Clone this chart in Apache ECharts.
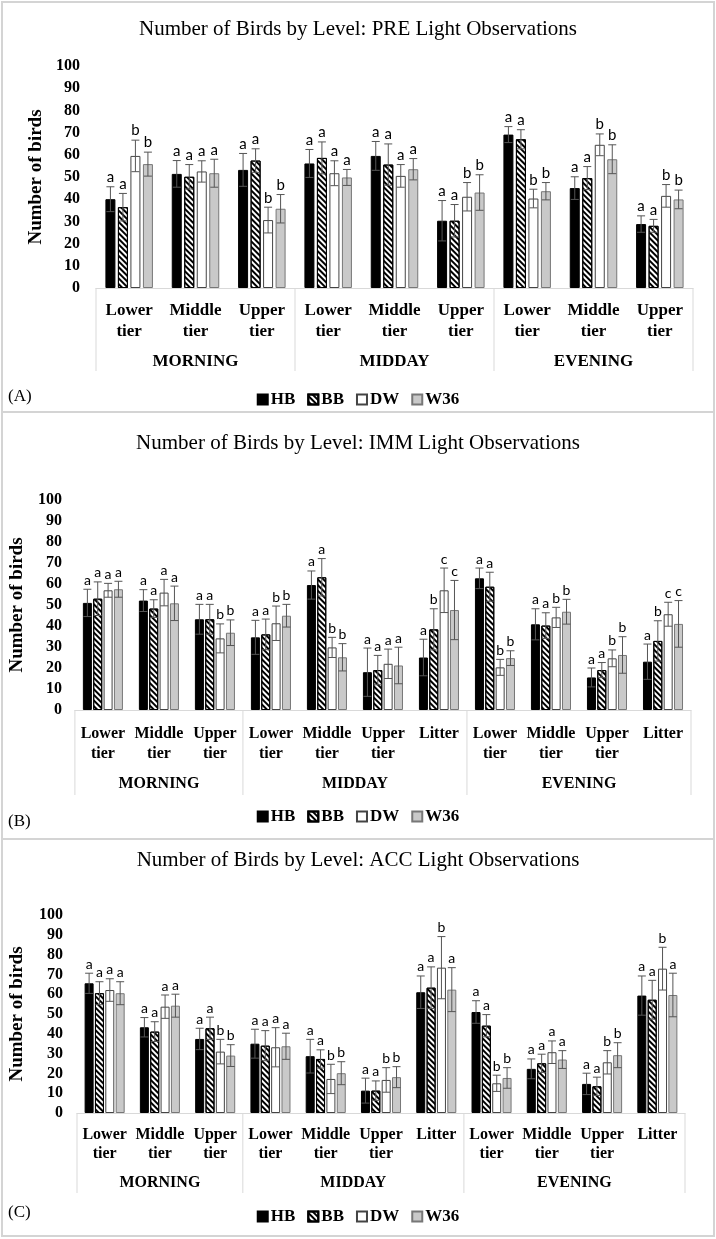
<!DOCTYPE html>
<html><head><meta charset="utf-8">
<script src="https://cdn.jsdelivr.net/npm/echarts@6/dist/echarts.min.js"></script>
<style>html,body{margin:0;padding:0;background:#fff}#c{width:716px;height:1239px}</style>
</head><body><div id="c"></div>
<script>
// ---------- DATA ----------
const seriesNames = ['HB', 'BB', 'DW', 'W36'];
const yTicks = [0, 100, 10]; // min, max, interval

// Panel A: PRE
const titleA = 'Number of Birds by Level: PRE Light Observations';
const tiersA = ['Lower\ntier','Middle\ntier','Upper\ntier','Lower\ntier','Middle\ntier','Upper\ntier','Lower\ntier','Middle\ntier','Upper\ntier'];
const groupsA = ['MORNING', 'MIDDAY', 'EVENING'];
const groupSizesA = [3, 3, 3];
const hbA  = [40.0, 51.4, 53.2, 56.1, 59.5, 30.3, 69.1, 45.0, 28.8];
const bbA  = [36.4, 50.1, 57.4, 58.6, 55.6, 30.3, 67.0, 49.5, 28.0];
const dwA  = [59.5, 52.5, 30.6, 51.7, 50.5, 41.1, 40.3, 64.5, 41.5];
const w36A = [55.8, 51.7, 35.7, 49.8, 53.5, 43.0, 43.6, 58.0, 39.9];
const hbErrA  = [5.6, 6.0, 7.4, 6.3, 6.5, 9.1, 3.6, 5.1, 3.7];
const bbErrA  = [6.2, 5.5, 5.3, 7.2, 9.3, 7.3, 4.3, 5.2, 2.9];
const dwErrA  = [7.1, 4.8, 5.8, 5.6, 5.1, 6.4, 4.2, 4.9, 5.1];
const w36ErrA = [5.4, 6.3, 6.4, 3.6, 4.8, 8.0, 3.9, 6.5, 4.2];
const hbLetA  = ['a','a','a','a','a','a','a','a','a'];
const bbLetA  = ['a','a','a','a','a','a','a','a','a'];
const dwLetA  = ['b','a','b','a','a','b','b','b','b'];
const w36LetA = ['b','a','b','a','a','b','b','b','b'];

// Panel B: IMM
const titleB = 'Number of Birds by Level: IMM Light Observations';
const tiersB = ['Lower\ntier','Middle\ntier','Upper\ntier','Lower\ntier','Middle\ntier','Upper\ntier','Litter','Lower\ntier','Middle\ntier','Upper\ntier','Litter'];
const groupsB = ['MORNING', 'MIDDAY', 'EVENING'];
const groupSizesB = [3, 4, 4];
const hbB  = [51.0, 52.1, 43.2, 34.6, 59.5, 18.0, 25.0, 62.7, 40.8, 15.5, 23.0];
const bbB  = [53.0, 48.3, 43.2, 36.0, 63.2, 19.0, 38.4, 58.7, 40.2, 19.0, 32.9];
const dwB  = [57.0, 55.9, 34.1, 41.3, 29.8, 22.0, 57.0, 20.3, 44.1, 24.6, 45.6];
const w36B = [57.5, 50.8, 36.8, 44.9, 25.1, 21.2, 47.6, 24.7, 46.8, 26.2, 41.0];
const hbErrB  = [6.5, 5.2, 7.1, 8.1, 6.7, 11.5, 8.7, 4.9, 7.4, 4.5, 8.4];
const bbErrB  = [8.0, 4.2, 7.1, 7.3, 8.9, 7.0, 9.8, 6.9, 6.1, 3.6, 9.6];
const dwErrB  = [3.3, 6.3, 6.9, 8.2, 4.8, 7.0, 10.6, 3.8, 4.8, 4.0, 5.7];
const w36ErrB = [3.8, 8.2, 6.1, 5.4, 6.5, 8.7, 14.1, 3.5, 5.9, 8.7, 11.1];
const hbLetB  = ['a','a','a','a','a','a','a','a','a','a','a'];
const bbLetB  = ['a','a','a','a','a','a','b','a','a','a','b'];
const dwLetB  = ['a','a','b','b','b','a','c','b','b','b','c'];
const w36LetB = ['a','a','b','b','b','a','c','b','b','b','c'];

// Panel C: ACC
const titleC = 'Number of Birds by Level: ACC Light Observations';
const tiersC = ['Lower\ntier','Middle\ntier','Upper\ntier','Lower\ntier','Middle\ntier','Upper\ntier','Litter','Lower\ntier','Middle\ntier','Upper\ntier','Litter'];
const groupsC = ['MORNING', 'MIDDAY', 'EVENING'];
const groupSizesC = [3, 4, 4];
const hbC  = [65.5, 43.3, 37.4, 35.0, 28.7, 11.3, 61.0, 51.0, 22.3, 14.7, 59.3];
const bbC  = [60.5, 41.1, 42.8, 34.0, 27.3, 11.3, 63.3, 44.1, 25.1, 13.5, 57.2];
const dwC  = [62.1, 53.7, 31.0, 33.2, 17.2, 16.7, 73.4, 15.0, 30.7, 25.6, 72.9];
const w36C = [60.5, 54.2, 29.0, 33.7, 20.1, 18.1, 62.3, 17.7, 27.0, 29.2, 59.6];
const hbErrC  = [5.1, 4.9, 5.4, 7.3, 8.5, 6.3, 8.2, 5.7, 5.0, 5.4, 9.9];
const bbErrC  = [5.8, 5.0, 5.6, 7.6, 4.6, 4.9, 10.5, 5.6, 4.6, 4.6, 9.8];
const dwErrC  = [5.7, 5.9, 6.2, 9.9, 7.4, 6.2, 15.7, 4.1, 5.7, 5.9, 10.8];
const w36ErrC = [5.8, 5.8, 5.5, 6.6, 5.8, 5.3, 11.1, 5.2, 4.5, 6.3, 11.0];
const hbLetC  = ['a','a','a','a','a','a','a','a','a','a','a'];
const bbLetC  = ['a','a','a','a','a','a','a','a','a','a','a'];
const dwLetC  = ['a','a','b','a','b','b','b','b','a','b','b'];
const w36LetC = ['a','a','b','a','b','b','a','b','a','b','a'];

// ---------- STYLE / LAYOUT ----------
const SERIF = '"Liberation Serif", "Times New Roman", serif';
const SANS = 'Lato, "Noto Sans", sans-serif';
const barStyles = [
  { color: '#000', borderColor: '#000', borderWidth: 1 },
  { color: '#fff', borderColor: '#000', borderWidth: 1,
    decal: { symbol: 'rect', symbolSize: 1, dashArrayX: [1, 0], dashArrayY: [2, 2], rotation: Math.PI / 4, color: '#000' } },
  { color: '#fff', borderColor: '#444', borderWidth: 1 },
  { color: '#c9c9c9', borderColor: '#777', borderWidth: 1 }
];

const panels = [
  { title: titleA, tiers: tiersA, groups: groupsA, sizes: groupSizesA,
    vals: [hbA, bbA, dwA, w36A], errs: [hbErrA, bbErrA, dwErrA, w36ErrA], lets: [hbLetA, bbLetA, dwLetA, w36LetA],
    grid: { left: 96, top: 66, width: 597, height: 222 }, titleTop: 14, barW: 10, gap: 0.25,
    tierFont: 17, tierLH: 21, tierMargin: 12, groupFont: 17, groupOff: 74, sepLen: 83, letFont: 15,
    yMargin: 16, nameGap: 48, legendTop: 386, tag: '(A)', tagY: 397 },
  { title: titleB, tiers: tiersB, groups: groupsB, sizes: groupSizesB,
    vals: [hbB, bbB, dwB, w36B], errs: [hbErrB, bbErrB, dwErrB, w36ErrB], lets: [hbLetB, bbLetB, dwLetB, w36LetB],
    grid: { left: 63, top: 500, width: 628, height: 210 }, titleTop: 428, barW: 9, gap: 0.15,
    tierFont: 16, tierLH: 20, tierMargin: 14, groupFont: 16, groupOff: 74, sepLen: 85, letFont: 14,
    yMargin: 13, nameGap: 44, legendTop: 803, tag: '(B)', tagY: 822 },
  { title: titleC, tiers: tiersC, groups: groupsC, sizes: groupSizesC,
    vals: [hbC, bbC, dwC, w36C], errs: [hbErrC, bbErrC, dwErrC, w36ErrC], lets: [hbLetC, bbLetC, dwLetC, w36LetC],
    grid: { left: 69, top: 915, width: 616, height: 198 }, titleTop: 845, barW: 9, gap: 0.15,
    tierFont: 16, tierLH: 19, tierMargin: 12, groupFont: 16, groupOff: 70, sepLen: 80, letFont: 14,
    yMargin: 14, nameGap: 50, legendTop: 1203, tag: '(C)', tagY: 1213 }
];

const option = { animation: false, backgroundColor: '#fff',
  title: [], grid: [], xAxis: [], yAxis: [], series: [], legend: [], graphic: [] };

// panel borders
[[2, 2, 712, 410], [2, 412, 712, 427], [2, 839, 712, 397]].forEach(r => {
  option.graphic.push({ type: 'rect', silent: true, z: -10,
    shape: { x: r[0], y: r[1], width: r[2], height: r[3] },
    style: { fill: 'none', stroke: '#d4d4d4', lineWidth: 2 } });
});

panels.forEach((p, g) => {
  option.title.push({ text: p.title, left: 'center', top: p.titleTop,
    textStyle: { fontFamily: SERIF, fontWeight: 'normal', fontSize: 21, color: '#000' } });
  option.grid.push(Object.assign({ containLabel: false }, p.grid));
  option.xAxis.push({ type: 'category', gridIndex: g, data: p.tiers,
    axisLine: { lineStyle: { color: '#d9d9d9', width: 1 } }, axisTick: { show: false },
    axisLabel: { interval: 0, fontFamily: SERIF, fontWeight: 'bold', fontSize: p.tierFont,
      lineHeight: p.tierLH, color: '#000', margin: p.tierMargin } });
  option.yAxis.push({ type: 'value', gridIndex: g, min: yTicks[0], max: yTicks[1], interval: yTicks[2],
    axisLine: { show: false }, axisTick: { show: false }, splitLine: { show: false },
    axisLabel: { fontFamily: SERIF, fontWeight: 'bold', fontSize: 16, color: '#000', margin: p.yMargin },
    name: 'Number of birds', nameLocation: 'middle', nameGap: p.nameGap,
    nameTextStyle: { fontFamily: SERIF, fontWeight: 'bold', fontSize: 19, color: '#000' } });

  const step = p.barW * (1 + p.gap);
  seriesNames.forEach((name, k) => {
    option.series.push({ type: 'bar', name: name, xAxisIndex: g, yAxisIndex: g,
      data: p.vals[k], barWidth: p.barW, barGap: (p.gap * 100) + '%',
      itemStyle: barStyles[k], z: 2 });
    const off = (k - 1.5) * step;
    const lets = p.lets[k];
    const errs = p.errs[k];
    option.series.push({ type: 'custom', name: name + ' err', xAxisIndex: g, yAxisIndex: g, silent: true, z: 5,
      data: p.vals[k].map((v, i) => [i, v, errs[i]]),
      renderItem: (params, api) => {
        const i = api.value(0), v = api.value(1), e = api.value(2);
        const x = api.coord([i, v])[0] + off;
        const yt = api.coord([i, v + e])[1];
        const yb = api.coord([i, v - e])[1];
        const st = { stroke: '#555', lineWidth: 1 };
        return { type: 'group', children: [
          { type: 'line', shape: { x1: x, y1: yt, x2: x, y2: yb }, style: st },
          { type: 'line', shape: { x1: x - 4, y1: yt, x2: x + 4, y2: yt }, style: st },
          { type: 'line', shape: { x1: x - 4, y1: yb, x2: x + 4, y2: yb }, style: st },
          { type: 'text', style: { text: lets[params.dataIndex], x: x, y: yt - 2,
              align: 'center', verticalAlign: 'bottom', font: p.letFont + 'px ' + SANS, fill: '#000' } }
        ] };
      } });
  });

  // group separators and group labels
  let start = 0;
  const gdata = p.sizes.map((s, j) => { const d = [start, start + s - 1, j]; start += s; return d; });
  option.series.push({ type: 'custom', name: 'groups', xAxisIndex: g, yAxisIndex: g, silent: true, z: 1,
    data: gdata,
    renderItem: (params, api) => {
      const s = api.value(0), e = api.value(1), j = api.value(2);
      const band = api.size([1, 0])[0];
      const x0 = api.coord([s, 0])[0] - band / 2;
      const x1 = api.coord([e, 0])[0] + band / 2;
      const y0 = api.coord([s, 0])[1];
      const st = { stroke: '#d9d9d9', lineWidth: 1 };
      const ch = [
        { type: 'line', shape: { x1: x0, y1: y0, x2: x0, y2: y0 + p.sepLen }, style: st },
        { type: 'text', style: { text: p.groups[j], x: (x0 + x1) / 2, y: y0 + p.groupOff, align: 'center',
            verticalAlign: 'middle', font: 'bold ' + p.groupFont + 'px ' + SERIF, fill: '#000' } }
      ];
      if (j === p.sizes.length - 1) ch.push({ type: 'line', shape: { x1: x1, y1: y0, x2: x1, y2: y0 + p.sepLen }, style: st });
      return { type: 'group', children: ch };
    } });

  option.legend.push({ data: seriesNames, top: p.legendTop, left: 'center', icon: 'rect',
    itemWidth: 10, itemHeight: 10, itemGap: 12, selectedMode: false,
    textStyle: { fontFamily: SERIF, fontWeight: 'bold', fontSize: 17, color: '#000', padding: [0, 0, 0, -2] } });
  option.graphic.push({ type: 'text', x: 8, y: p.tagY, silent: true,
    style: { text: p.tag, font: '17px ' + SERIF, fill: '#000', verticalAlign: 'middle' } });
});

const chart = echarts.init(document.getElementById('c'), null, { renderer: 'canvas' });
chart.setOption(option);
</script>
</body></html>
